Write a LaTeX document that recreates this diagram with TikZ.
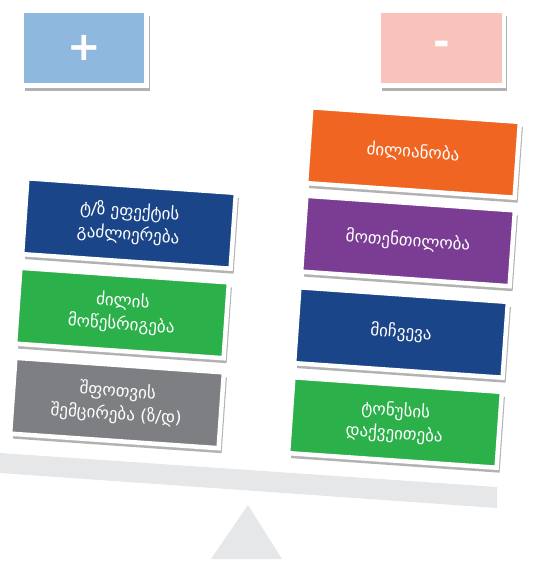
\documentclass[tikz,border=0pt]{standalone}
\usepackage{fontspec}
\newfontfamily\geofont[Script=Georgian]{DejaVu Sans}
\newfontfamily\signfont{DejaVu Sans}
\usetikzlibrary{shadows}

\definecolor{plusblue}{HTML}{8FB8DE}
\definecolor{minuspink}{HTML}{F9C2BB}
\definecolor{darkblue}{HTML}{1A4588}
\definecolor{leafgreen}{HTML}{2BB04A}
\definecolor{stonegray}{HTML}{7E7F83}
\definecolor{deeporange}{HTML}{F06522}
\definecolor{plum}{HTML}{7B3C93}
\definecolor{scalegray}{HTML}{E6E7E8}

\tikzset{
  card/.style={draw=white, line width=4.5pt, minimum width=209pt, minimum height=76pt,
    align=center, text=white, rotate=-4,
    font=\geofont\fontsize{17}{23}\selectfont,
    drop shadow={shadow xshift=3pt, shadow yshift=-5pt, fill=black, opacity=.3}},
  signbox/.style={draw=white, line width=4.5pt, minimum width=125pt, minimum height=75pt,
    text=white, font=\signfont\bfseries\fontsize{40}{40}\selectfont,
    drop shadow={shadow xshift=3pt, shadow yshift=-5pt, fill=black, opacity=.3}}
}

\begin{document}
\begin{tikzpicture}[x=1pt, y=-1pt]
    \useasboundingbox (0,0) rectangle (539,573);
    % beam and pivot
    \fill[scalegray] (0,453) -- (497,487) -- (497,508) -- (0,473) -- cycle;
    \fill[scalegray] (211,559) -- (248,505) -- (282,559) -- cycle;
    % signs
    \node[signbox, fill=plusblue] (plus) at (84,48) {+};
    \node[signbox, fill=minuspink] (minus) at (441.5,48) {-};
    % left side
    \node[card, fill=darkblue] (effect) at (129,223.5) {ტ/ზ ეფექტის\\გაძლიერება};
    \node[card, fill=leafgreen] (sleep) at (122,313) {ძილის\\მოწესრიგება};
    \node[card, fill=stonegray] (anxiety) at (117,403) {შფოთვის\\შემცირება (ზ/დ)};
    % right side
    \node[card, fill=deeporange] (drowsy) at (413,152.5) {ძილიანობა};
    \node[card, fill=plum] (sluggish) at (408,241) {მოთენთილობა};
    \node[card, fill=darkblue] (habit) at (401,332.5) {მიჩვევა};
    \node[card, fill=leafgreen] (tonus) at (395,422.5) {ტონუსის\\დაქვეითება};
\end{tikzpicture}
\end{document}
